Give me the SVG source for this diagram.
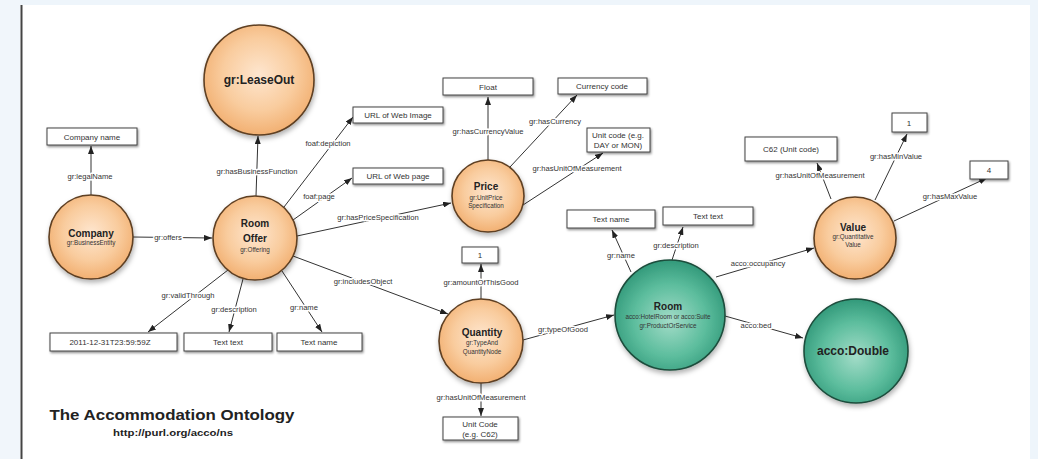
<svg xmlns="http://www.w3.org/2000/svg" width="1038" height="459" viewBox="0 0 1038 459">
  <defs>
    <radialGradient id="orangeFill" cx="50%" cy="45%" r="55%">
      <stop offset="0" stop-color="#fee6cf"/>
      <stop offset="0.6" stop-color="#f9cc9e"/>
      <stop offset="1" stop-color="#f2b072"/>
    </radialGradient>
    <radialGradient id="greenFill" cx="50%" cy="55%" r="55%">
      <stop offset="0" stop-color="#a3dcc8"/>
      <stop offset="0.6" stop-color="#5cbd9d"/>
      <stop offset="1" stop-color="#32997a"/>
    </radialGradient>
    <filter id="nodeShadow" x="-30%" y="-30%" width="160%" height="170%">
      <feDropShadow dx="1" dy="3" stdDeviation="2.5" flood-color="#000" flood-opacity="0.3"/>
    </filter>
    <filter id="boxShadow" x="-10%" y="-30%" width="120%" height="170%">
      <feDropShadow dx="1" dy="1.5" stdDeviation="0.8" flood-color="#000" flood-opacity="0.45"/>
    </filter>
    <marker id="arrow" viewBox="0 0 8 6" refX="8" refY="3" markerWidth="8" markerHeight="6" markerUnits="userSpaceOnUse" orient="auto">
      <path d="M0,0 L8,3 L0,6 z" fill="#222"/>
    </marker>
    <style>
      .lit { fill: #fff; stroke: #444; stroke-width: 1; filter: url(#boxShadow); }
      .orange { fill: url(#orangeFill); stroke: #5e3f22; stroke-width: 1.6; filter: url(#nodeShadow); }
      .green { fill: url(#greenFill); stroke: #1d4d3c; stroke-width: 1.6; filter: url(#nodeShadow); }
      .edge { stroke: #333; stroke-width: 1; fill: none; marker-end: url(#arrow); }
      text { font-family: "Liberation Sans", Arial, sans-serif; text-anchor: middle; fill: #222; }
      .name { font-size: 10px; font-weight: bold; }
      .big { font-size: 12px; font-weight: bold; }
      .cls { font-size: 6.3px; fill: #333; }
      .val { font-size: 8px; fill: #333; }
      .lbl { font-size: 7.6px; fill: #333; stroke: #fff; stroke-width: 3px; paint-order: stroke; stroke-linejoin: round; }
    </style>
  </defs>

  <!-- page frame -->
  <rect x="0" y="0" width="1038" height="459" fill="#fff"/>
  <rect x="0" y="0" width="1038" height="5" fill="#eef5fb"/>
  <rect x="0" y="0" width="20" height="459" fill="#f1f6fb"/>
  <rect x="1030" y="0" width="8" height="459" fill="#eef5fb"/>
  <line x1="21.5" y1="5" x2="21.5" y2="459" stroke="#444" stroke-width="2"/>

  <!-- connectors -->
  <g id="connectors">
    <line class="edge" x1="91" y1="195" x2="91" y2="146"/>
    <line class="edge" x1="133" y1="237" x2="212" y2="238"/>
    <line class="edge" x1="256" y1="196" x2="258" y2="136"/>
    <line class="edge" x1="284" y1="207" x2="353" y2="117"/>
    <line class="edge" x1="293" y1="220" x2="352" y2="178"/>
    <line class="edge" x1="297" y1="236" x2="451" y2="203"/>
    <line class="edge" x1="293" y1="256" x2="448" y2="314"/>
    <line class="edge" x1="228" y1="270" x2="148" y2="332"/>
    <line class="edge" x1="243" y1="279" x2="229" y2="332"/>
    <line class="edge" x1="282" y1="271" x2="322" y2="332"/>
    <line class="edge" x1="488" y1="160" x2="488" y2="97"/>
    <line class="edge" x1="510" y1="167" x2="577" y2="95"/>
    <line class="edge" x1="523" y1="205" x2="603" y2="153"/>
    <line class="edge" x1="481" y1="299" x2="481" y2="264"/>
    <line class="edge" x1="481" y1="383" x2="481" y2="416"/>
    <line class="edge" x1="523" y1="340" x2="614" y2="315"/>
    <line class="edge" x1="631" y1="272" x2="612" y2="230"/>
    <line class="edge" x1="672" y1="260" x2="683" y2="227"/>
    <line class="edge" x1="716" y1="277" x2="814" y2="248"/>
    <line class="edge" x1="725" y1="316" x2="803" y2="338"/>
    <line class="edge" x1="831" y1="199" x2="817" y2="163"/>
    <line class="edge" x1="875" y1="200" x2="907" y2="134"/>
    <line class="edge" x1="894" y1="221" x2="987" y2="178"/>

    <!-- property labels -->
    <text class="lbl" x="90" y="179">gr:legalName</text>
    <text class="lbl" x="168" y="240">gr:offers</text>
    <text class="lbl" x="257" y="174">gr:hasBusinessFunction</text>
    <text class="lbl" x="328" y="146">foaf:depiction</text>
    <text class="lbl" x="319" y="199">foaf:page</text>
    <text class="lbl" x="378" y="220">gr:hasPriceSpecification</text>
    <text class="lbl" x="363" y="284">gr:includesObject</text>
    <text class="lbl" x="188" y="298">gr:validThrough</text>
    <text class="lbl" x="234" y="312">gr:description</text>
    <text class="lbl" x="304" y="310">gr:name</text>
    <text class="lbl" x="488" y="134">gr:hasCurrencyValue</text>
    <text class="lbl" x="555" y="124">gr:hasCurrency</text>
    <text class="lbl" x="577" y="171">gr:hasUnitOfMeasurement</text>
    <text class="lbl" x="481" y="285">gr:amountOfThisGood</text>
    <text class="lbl" x="481" y="400">gr:hasUnitOfMeasurement</text>
    <text class="lbl" x="563" y="332">gr:typeOfGood</text>
    <text class="lbl" x="621" y="258">gr:name</text>
    <text class="lbl" x="676" y="248">gr:description</text>
    <text class="lbl" x="758" y="266">acco:occupancy</text>
    <text class="lbl" x="756" y="328">acco:bed</text>
    <text class="lbl" x="820" y="178">gr:hasUnitOfMeasurement</text>
    <text class="lbl" x="896" y="159">gr:hasMinValue</text>
    <text class="lbl" x="950" y="199">gr:hasMaxValue</text>
  </g>

  <!-- resource nodes -->
  <g id="leaseout">
    <circle class="orange" cx="259" cy="80" r="55"/>
    <text class="big" x="259" y="84">gr:LeaseOut</text>
  </g>
  <g id="company">
    <circle class="orange" cx="91" cy="237" r="42"/>
    <text class="name" x="91" y="237">Company</text>
    <text class="cls" x="91" y="245">gr:BusinessEntity</text>
  </g>
  <g id="room-offer">
    <circle class="orange" cx="255" cy="238" r="42"/>
    <text class="name" x="255" y="227">Room</text>
    <text class="name" x="255" y="242">Offer</text>
    <text class="cls" x="255" y="252">gr:Offering</text>
  </g>
  <g id="price">
    <circle class="orange" cx="488" cy="196" r="36"/>
    <text class="name" x="486" y="190">Price</text>
    <text class="cls" x="486" y="200">gr:UnitPrice</text>
    <text class="cls" x="486" y="208">Specification</text>
  </g>
  <g id="quantity">
    <circle class="orange" cx="481" cy="341" r="42"/>
    <text class="name" x="482" y="336">Quantity</text>
    <text class="cls" x="482" y="345">gr:TypeAnd</text>
    <text class="cls" x="482" y="354">QuantityNode</text>
  </g>
  <g id="room">
    <circle class="green" cx="670" cy="315" r="55"/>
    <text class="name" x="668" y="310">Room</text>
    <text class="cls" x="668" y="319">acco:HotelRoom or acco:Suite</text>
    <text class="cls" x="668" y="328">gr:ProductOrService</text>
  </g>
  <g id="value">
    <circle class="orange" cx="855" cy="238" r="41"/>
    <text class="name" x="853" y="231">Value</text>
    <text class="cls" x="853" y="239">gr:Quantitative</text>
    <text class="cls" x="853" y="247">Value</text>
  </g>
  <g id="acco-double">
    <circle class="green" cx="856" cy="351" r="52"/>
    <text class="big" x="853" y="355">acco:Double</text>
  </g>

  <!-- literal boxes -->
  <g id="lit-company-name">
    <rect class="lit" x="47" y="128" width="90" height="17"/>
    <text class="val" x="92" y="139.5">Company name</text>
  </g>
  <g id="lit-web-image">
    <rect class="lit" x="353" y="107" width="90" height="16"/>
    <text class="val" x="398" y="118">URL of Web Image</text>
  </g>
  <g id="lit-web-page">
    <rect class="lit" x="353" y="168" width="90" height="16"/>
    <text class="val" x="398" y="179">URL of Web page</text>
  </g>
  <g id="lit-valid-through">
    <rect class="lit" x="50" y="333" width="127" height="18"/>
    <text class="val" x="110" y="345">2011-12-31T23:59:59Z</text>
  </g>
  <g id="lit-offer-description">
    <rect class="lit" x="184" y="333" width="88" height="18"/>
    <text class="val" x="228" y="345">Text text</text>
  </g>
  <g id="lit-offer-name">
    <rect class="lit" x="277" y="333" width="85" height="18"/>
    <text class="val" x="319" y="345">Text name</text>
  </g>
  <g id="lit-float">
    <rect class="lit" x="443" y="78" width="90" height="17"/>
    <text class="val" x="488" y="89.5">Float</text>
  </g>
  <g id="lit-currency">
    <rect class="lit" x="558" y="78" width="89" height="16"/>
    <text class="val" x="602" y="89">Currency code</text>
  </g>
  <g id="lit-price-unit">
    <rect class="lit" x="587" y="128" width="63" height="24"/>
    <text class="val" x="618" y="138">Unit code (e.g.</text>
    <text class="val" x="618" y="147.5">DAY or MON)</text>
  </g>
  <g id="lit-amount">
    <rect class="lit" x="462" y="247" width="36" height="16"/>
    <text class="val" x="480" y="258">1</text>
  </g>
  <g id="lit-quantity-unit">
    <rect class="lit" x="443" y="417" width="75" height="23"/>
    <text class="val" x="480" y="427">Unit Code</text>
    <text class="val" x="480" y="436.5">(e.g. C62)</text>
  </g>
  <g id="lit-room-name">
    <rect class="lit" x="567" y="210" width="88" height="18"/>
    <text class="val" x="611" y="222">Text name</text>
  </g>
  <g id="lit-room-description">
    <rect class="lit" x="663" y="207" width="90" height="18"/>
    <text class="val" x="708" y="219">Text text</text>
  </g>
  <g id="lit-value-unit">
    <rect class="lit" x="745" y="137" width="92" height="24"/>
    <text class="val" x="791" y="152">C62 (Unit code)</text>
  </g>
  <g id="lit-min">
    <rect class="lit" x="892" y="113" width="35" height="19"/>
    <text class="val" x="909" y="125.5">1</text>
  </g>
  <g id="lit-max">
    <rect class="lit" x="970" y="161" width="38" height="18"/>
    <text class="val" x="989" y="173">4</text>
  </g>

  <!-- caption -->
  <g id="caption">
    <text x="172" y="420" font-size="15.5" font-weight="bold" fill="#333" textLength="245" lengthAdjust="spacingAndGlyphs">The Accommodation Ontology</text>
    <text x="173" y="436" font-size="8.5" font-weight="bold" fill="#444" textLength="120" lengthAdjust="spacingAndGlyphs">http://purl.org/acco/ns</text>
  </g>
</svg>
